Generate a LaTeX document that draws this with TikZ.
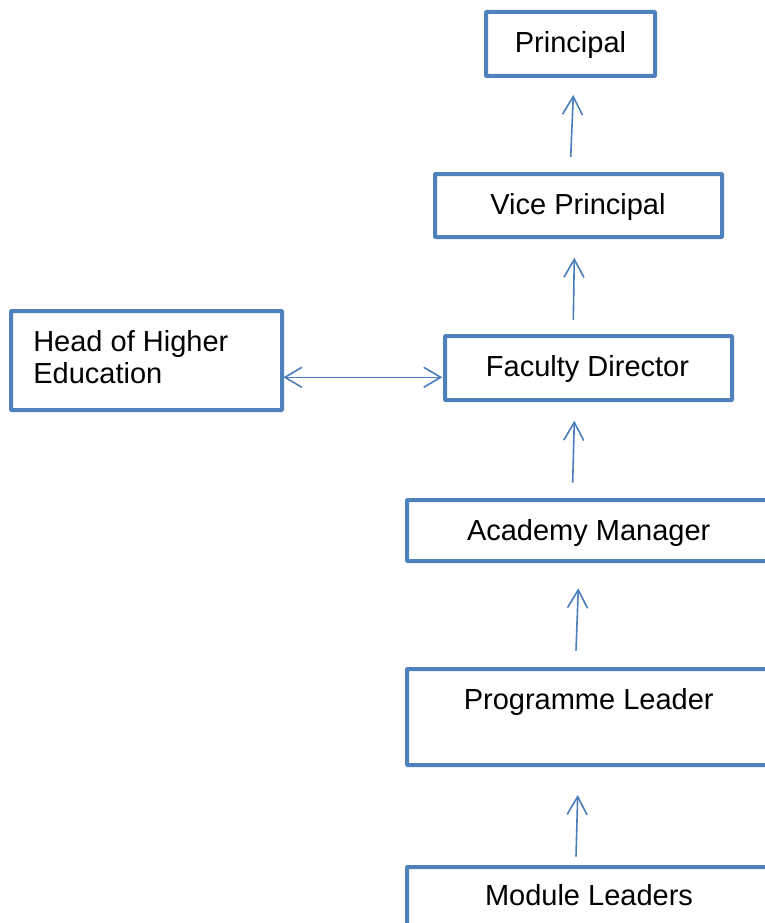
\documentclass[tikz,border=0pt]{standalone}
\usepackage{fontspec}
\setmainfont{Liberation Sans}
\usetikzlibrary{arrows.meta}
\definecolor{boxblue}{HTML}{4F81BD}
\definecolor{arrowblue}{HTML}{4A7EBB}
\tikzset{
  orgbox/.style={draw=boxblue, line width=4pt, rectangle, outer sep=0pt, inner sep=0pt, rounded corners=0.8pt},
  lbl/.style={inner sep=0pt, outer sep=0pt, font=\fontsize{29}{32.3}\selectfont},
  arr/.style={draw=arrowblue, line width=1.6pt, -{Straight Barb[length=18pt, width=20pt, line width=1.6pt]}},
  dblarr/.style={draw=arrowblue, line width=1.6pt, {Straight Barb[length=17pt, width=20pt, line width=1.6pt]}-{Straight Barb[length=17pt, width=20pt, line width=1.6pt]}}
}
\begin{document}
\begin{tikzpicture}[x=1pt, y=-1pt]
  \useasboundingbox (0,0) rectangle (765,923);
  \clip (0,0) rectangle (765,923);
  \fill[white] (0,0) rectangle (765,923);

  % boxes (dimensions measured to the middle of the border)
  \node[orgbox, minimum width=169pt, minimum height=64pt] (p)   at (570.5,44)    {};
  \node[orgbox, minimum width=287pt, minimum height=63pt] (vp)  at (578.5,205.5) {};
  \node[orgbox, minimum width=287pt, minimum height=64pt] (fd)  at (588.5,368)   {};
  \node[orgbox, minimum width=271pt, minimum height=99pt] (hhe) at (146.5,360.5) {};
  \node[orgbox, minimum width=364pt, minimum height=61pt] (am)  at (589,530.5)   {};
  \node[orgbox, minimum width=364pt, minimum height=96pt] (pl)  at (589,717)     {};
  \node[orgbox, minimum width=364pt, minimum height=61pt] (ml)  at (589,897.5)   {};

  % labels
  \node[lbl, anchor=base] (pt)  at (570.5,53)   {Principal};
  \node[lbl, anchor=base] (vpt) at (578,214)    {Vice Principal};
  \node[lbl, anchor=base] (fdt) at (587.5,376.7){Faculty Director};
  \node[lbl, anchor=base] (amt) at (588.7,540)  {Academy Manager};
  \node[lbl, anchor=base] (plt) at (588.7,709.3){Programme Leader};
  \node[lbl, anchor=base] (mlt) at (589,905)    {Module Leaders};
  \node[lbl, anchor=west, align=left] (hhet) at (33.3,357.3) {Head of Higher\\Education};

  % reporting lines
  \draw[arr] ([shift={(-7.8,-17)}]vp.north)    -- ([shift={(2.8,19)}]p.south);
  \draw[arr] ([shift={(-15.2,-16)}]fd.north)   -- ([shift={(-4.2,20.7)}]vp.south);
  \draw[arr] ([shift={(-16.3,-17.3)}]am.north) -- ([shift={(-14.2,20.7)}]fd.south);
  \draw[arr] ([shift={(-13,-18.3)}]pl.north)   -- ([shift={(-10.7,27.3)}]am.south);
  \draw[arr] ([shift={(-13,-10.3)}]ml.north)   -- ([shift={(-11.3,30)}]pl.south);
  \draw[dblarr] ([shift={(1.3,16.8)}]hhe.east) -- ([shift={(-2.7,9.3)}]fd.west);
\end{tikzpicture}
\end{document}
